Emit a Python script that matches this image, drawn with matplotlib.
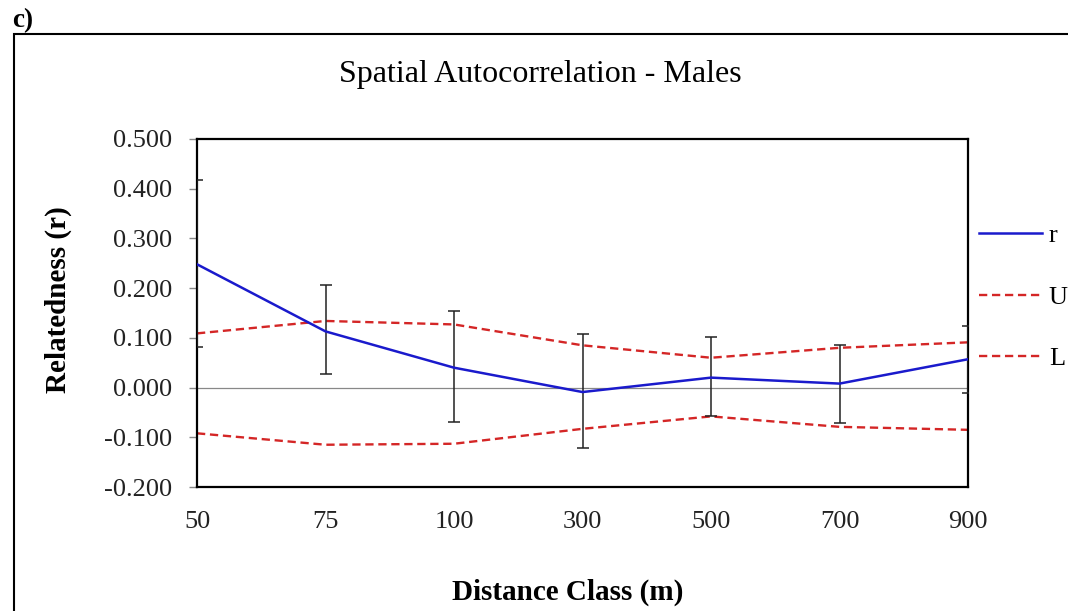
import numpy as np
import matplotlib.pyplot as plt
from matplotlib.patches import Rectangle

plt.rcParams['font.family'] = ['Liberation Serif', 'DejaVu Serif']

# distance classes (m) and autocorrelation results
classes = ['50', '75', '100', '300', '500', '700', '900']
r_vals = [0.248, 0.113, 0.040, -0.009, 0.020, 0.008, 0.057]
u_vals = [0.109, 0.134, 0.127, 0.085, 0.060, 0.080, 0.091]
l_vals = [-0.092, -0.115, -0.113, -0.083, -0.058, -0.079, -0.085]
err_top = [0.418, 0.206, 0.154, 0.108, 0.102, 0.085, 0.124]
err_bot = [0.082, 0.027, -0.070, -0.122, -0.057, -0.071, -0.011]

x = np.arange(len(classes))
r = np.array(r_vals)
yerr = [r - np.array(err_bot), np.array(err_top) - r]

fig = plt.figure(figsize=(10.68, 6.11), dpi=100)
ax = fig.add_axes([197/1068, 1 - 487/611, 771/1068, 348/611])

ax.axhline(0, color='#888888', lw=0.9, zorder=1)
ax.plot(x, u_vals, color='#d42626', lw=1.7, ls=(0, (3.5, 2)), label='U', zorder=2)
ax.plot(x, l_vals, color='#d42626', lw=1.7, ls=(0, (3.5, 2)), label='L', zorder=2)
ax.errorbar(x, r, yerr=yerr, fmt='none', ecolor='#222222', elinewidth=1.1,
            capsize=4, capthick=1.1, zorder=3)
ax.plot(x, r, color='#1a1acc', lw=1.8, label='r', zorder=4)

ax.set_xlim(0, len(classes) - 1)
ax.set_ylim(-0.2, 0.5)
ax.set_xticks(x)
ax.set_xticklabels(classes)
ax.set_yticks(np.arange(-0.2, 0.51, 0.1))
ax.yaxis.set_major_formatter(plt.FuncFormatter(lambda v, p: f'{v:.3f}'))
ax.tick_params(axis='x', length=0, pad=17, labelsize=19, colors='#222222')
ax.tick_params(axis='y', length=6, width=1, color='#888888', pad=12,
               labelsize=19, labelcolor='#222222')
for s in ax.spines.values():
    s.set_linewidth(1.6)
    s.set_color('black')

fig.text(58/1068, 1 - 300/611, 'Relatedness (r)', fontsize=21,
         fontweight='bold', rotation=90, ha='center', va='center')
fig.text(568/1068, 1 - 600/611, 'Distance Class (m)', fontsize=21,
         fontweight='bold', ha='center', va='baseline')
fig.text(540/1068, 1 - 82/611, 'Spatial Autocorrelation - Males', fontsize=23,
         ha='center', va='baseline')
fig.text(12/1068, 1 - 27/611, 'c)', fontsize=19.5, fontweight='bold',
         ha='left', va='baseline')

# outer frame
fig.patches.append(Rectangle((14/1068, -0.1), 1.2, 1.1 - 34/611,
                             transform=fig.transFigure, fill=False,
                             edgecolor='black', lw=1.5))

h, lab = ax.get_legend_handles_labels()
order = [2, 0, 1]
fig.legend([h[i] for i in order], [lab[i] for i in order],
           loc='center left', bbox_to_anchor=(979/1068, 1 - 297/611),
           frameon=False, fontsize=19, handlelength=2.4, handletextpad=0.25,
           labelspacing=1.45, borderpad=0, borderaxespad=0)

fig.savefig('out.png', dpi=100)
